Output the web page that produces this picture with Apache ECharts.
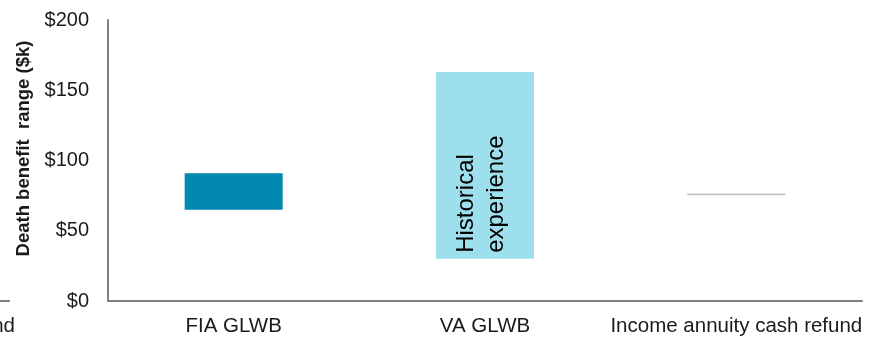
<!DOCTYPE html>
<html>
<head>
<meta charset="utf-8">
<script src="https://cdn.jsdelivr.net/npm/echarts@6/dist/echarts.min.js"></script>
<style>
  html, body { margin: 0; padding: 0; background: #fff; }
  #chart { width: 886px; height: 340px; }
</style>
</head>
<body>
<div id="chart"></div>
<script>
// categories and floating ranges ($k)
const categories = ['FIA GLWB', 'VA GLWB', 'Income annuity cash refund'];
const rangeLow = [65, 30, 75.2];
const rangeHigh = [91, 163, 76.6];
const yTicks = [0, 50, 100, 150, 200];

const rangeSpan = rangeHigh.map((v, i) => +(v - rangeLow[i]).toFixed(1));
const barColors = ['#0088b0', '#9ddfec', '#c4c4c4'];
const font = 'Liberation Sans, Arial, sans-serif';

const chart = echarts.init(document.getElementById('chart'));
chart.setOption({
  animation: false,
  textStyle: { fontFamily: font },
  grid: { left: 108, right: 24, top: 20, bottom: 39 },
  xAxis: {
    type: 'category',
    data: categories,
    axisLine: { lineStyle: { color: '#808080', width: 2 } },
    axisTick: { show: false },
    axisLabel: { color: '#1a1a1a', fontSize: 20.5, margin: 15, interval: 0 }
  },
  yAxis: {
    type: 'value',
    min: yTicks[0],
    max: yTicks[yTicks.length - 1],
    interval: 50,
    name: 'Death benefit  range ($k)',
    nameLocation: 'middle',
    nameGap: 74,
    nameTextStyle: { color: '#1a1a1a', fontSize: 18.5, fontWeight: 'bold', padding: [0, 0, 0, 24] },
    axisLine: { show: true, lineStyle: { color: '#808080', width: 2 } },
    axisTick: { show: false },
    splitLine: { show: false },
    axisLabel: { color: '#1a1a1a', fontSize: 20, margin: 19, formatter: v => '$' + v }
  },
  series: [
    {
      type: 'bar',
      stack: 'range',
      data: rangeLow,
      barWidth: 98,
      itemStyle: { color: 'transparent' },
      silent: true
    },
    {
      type: 'bar',
      stack: 'range',
      barWidth: 98,
      data: rangeSpan.map((v, i) => ({
        value: v,
        itemStyle: { color: barColors[i] },
        label: i === 1 ? {
          show: true,
          position: 'insideBottom',
          distance: 6,
          rotate: 90,
          align: 'left',
          verticalAlign: 'middle',
          offset: [0, -4],
          color: '#000',
          fontSize: 24,
          lineHeight: 30,
          formatter: 'Historical\nexperience'
        } : { show: false }
      }))
    }
  ],
  graphic: [
    // fragment of the neighbouring panel cut off at the left edge
    {
      type: 'text',
      x: 15,
      y: 316,
      style: { text: 'refund', fontSize: 20.5, fill: '#1a1a1a', fontFamily: font, align: 'right' }
    },
    {
      type: 'line',
      shape: { x1: 0, y1: 301, x2: 10, y2: 301 },
      style: { stroke: '#808080', lineWidth: 2 }
    }
  ]
});
</script>
</body>
</html>
